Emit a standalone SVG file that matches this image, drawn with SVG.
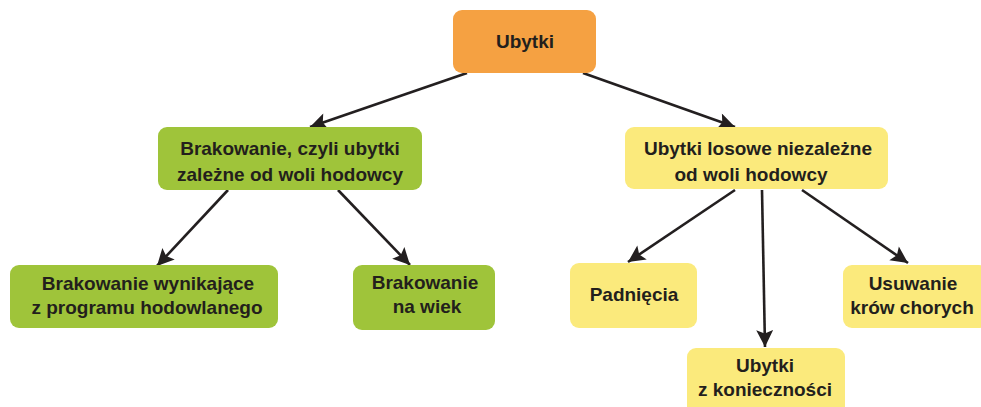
<svg xmlns="http://www.w3.org/2000/svg" width="981" height="407" viewBox="0 0 981 407">
<defs>
<marker id="ah" viewBox="0 0 10 10" refX="10" refY="5" markerWidth="8" markerHeight="6.5" markerUnits="strokeWidth" orient="auto">
<path d="M0,0 L10,5 L0,10 L2,5 Z" fill="#231f20"/>
</marker>
</defs>
<style>
.orange{fill:#F5A142}
.green{fill:#9FC43A}
.yellow{fill:#FBEA7C}
text{font-family:"Liberation Sans",Arial,sans-serif;font-weight:bold;font-size:19px;fill:#231f1c;text-anchor:middle}
.conn line{stroke:#231f20;stroke-width:2.6;marker-end:url(#ah)}
</style>
<rect width="981" height="407" fill="#ffffff"/>
<g class="conn">
<line x1="467" y1="73" x2="310" y2="127"/>
<line x1="583" y1="73" x2="735" y2="127"/>
<line x1="228" y1="190" x2="157" y2="266"/>
<line x1="338" y1="190" x2="410" y2="265"/>
<line x1="735" y1="190" x2="628" y2="262"/>
<line x1="762" y1="190" x2="765" y2="347"/>
<line x1="802" y1="190" x2="908" y2="263"/>
</g>
<g id="ubytki">
<rect class="orange" x="453" y="10" width="143" height="63" rx="9"/>
<text x="525" y="48">Ubytki</text>
</g>
<g id="brakowanie">
<rect class="green" x="158" y="127" width="264" height="63" rx="9"/>
<text x="290" y="155">Brakowanie, czyli ubytki</text>
<text x="290" y="181">zależne od woli hodowcy</text>
</g>
<g id="losowe">
<rect class="yellow" x="625" y="127" width="263" height="62" rx="9"/>
<text x="758" y="155">Ubytki losowe niezależne</text>
<text x="751" y="181">od woli hodowcy</text>
</g>
<g id="program">
<rect class="green" x="10" y="265" width="268" height="63" rx="9"/>
<text x="148" y="290">Brakowanie wynikające</text>
<text x="147" y="314">z programu hodowlanego</text>
</g>
<g id="wiek">
<rect class="green" x="353" y="265" width="142" height="65" rx="9"/>
<text x="425" y="289">Brakowanie</text>
<text x="427" y="313">na wiek</text>
</g>
<g id="padniecia">
<rect class="yellow" x="570" y="263" width="127" height="65" rx="9"/>
<text x="634" y="301">Padnięcia</text>
</g>
<g id="koniecznosci">
<rect class="yellow" x="687" y="348" width="158" height="70" rx="9"/>
<text x="765" y="372">Ubytki</text>
<text x="765" y="396">z konieczności</text>
</g>
<g id="usuwanie">
<rect class="yellow" x="843" y="265" width="145" height="63" rx="9"/>
<text x="913" y="290">Usuwanie</text>
<text x="912" y="314">krów chorych</text>
</g>
</svg>
